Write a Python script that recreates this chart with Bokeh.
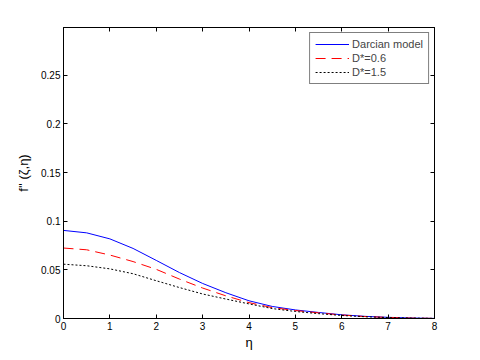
from bokeh.plotting import figure
from bokeh.models import LinearAxis, Range1d, FixedTicker, Legend, LegendItem, CustomJSTickFormatter
from bokeh.embed import file_html
from bokeh.resources import INLINE

eta = [0, 0.5, 1, 1.5, 2, 2.5, 3, 3.5, 4, 4.5, 5, 5.5, 6, 6.5, 7, 7.5, 8]
darcian = [0.0905, 0.0880, 0.0818, 0.0720, 0.0597, 0.0472, 0.0360, 0.0265, 0.0182,
           0.0124, 0.0088, 0.0062, 0.0038, 0.0022, 0.0012, 0.0005, 0.0001]
d06 = [0.0724, 0.0706, 0.0652, 0.0585, 0.0505, 0.0405, 0.0313, 0.0233, 0.0163,
       0.0112, 0.0082, 0.0058, 0.0036, 0.0020, 0.0011, 0.0004, 0.0001]
d15 = [0.0558, 0.0542, 0.0510, 0.0460, 0.0388, 0.0318, 0.0252, 0.0200, 0.0150,
       0.0102, 0.0072, 0.0050, 0.0031, 0.0018, 0.0009, 0.0004, 0.0001]
x_ticks = [0, 1, 2, 3, 4, 5, 6, 7, 8]
y_ticks = [0, 0.05, 0.1, 0.15, 0.2, 0.25]
labels = ["Darcian model", "D*=0.6", "D*=1.5"]

FONT = "Liberation Sans"

p = figure(width=472, height=352, output_backend="svg", toolbar_location=None,
           x_range=Range1d(0, 8), y_range=Range1d(0, 0.299),
           min_border_left=63, min_border_right=38, min_border_top=27, min_border_bottom=32)
p.xgrid.visible = False
p.ygrid.visible = False
p.outline_line_color = "black"
p.outline_line_width = 1

r1 = p.line(eta, darcian, line_color="blue", line_width=1)
r2 = p.line(eta, d06, line_color="red", line_width=1, line_dash="10 6")
r3 = p.line(eta, d15, line_color="black", line_width=1, line_dash="2 2")

for ax, ticks in ((p.xaxis[0], x_ticks), (p.yaxis[0], y_ticks)):
    ax.ticker = FixedTicker(ticks=ticks)
    ax.major_tick_in = 4
    ax.major_tick_out = 0
    ax.minor_tick_line_color = None
    ax.axis_line_color = "black"
    ax.major_tick_line_color = "black"
    ax.major_label_text_font = FONT
    ax.major_label_text_font_size = "10px"
    ax.major_label_text_color = "black"
    ax.axis_label_text_font = FONT
    ax.axis_label_text_font_style = "normal"
    ax.axis_label_text_color = "black"

p.xaxis[0].major_label_standoff = 3
p.yaxis[0].major_label_standoff = 3
p.yaxis[0].formatter.use_scientific = False

p.xaxis[0].axis_label = "η"
p.xaxis[0].axis_label_text_font_size = "13px"
p.xaxis[0].axis_label_standoff = 2
p.yaxis[0].axis_label = "f'' (ζ,η)"
p.yaxis[0].axis_label_text_font_size = "13px"
p.yaxis[0].axis_label_standoff = 7

top = LinearAxis(ticker=FixedTicker(ticks=x_ticks), major_tick_in=4, major_tick_out=0,
                 minor_tick_line_color=None, formatter=CustomJSTickFormatter(code="return ''"),
                 major_label_standoff=0)
right = LinearAxis(ticker=FixedTicker(ticks=y_ticks), major_tick_in=4, major_tick_out=0,
                   minor_tick_line_color=None, formatter=CustomJSTickFormatter(code="return ''"),
                   major_label_standoff=0)
p.add_layout(top, "above")
p.add_layout(right, "right")

legend = Legend(items=[LegendItem(label=labels[0], renderers=[r1]),
                       LegendItem(label=labels[1], renderers=[r2]),
                       LegendItem(label=labels[2], renderers=[r3])],
                location="top_right")
legend.border_line_color = "black"
legend.border_line_width = 1
legend.label_text_font = FONT
legend.label_text_font_size = "11px"
legend.glyph_width = 34
legend.glyph_height = 12
legend.label_height = 12
legend.spacing = 2
legend.padding = 5
legend.margin = 5
legend.label_standoff = 3
p.add_layout(legend)

open("out.html", "w").write(file_html(p, INLINE))
